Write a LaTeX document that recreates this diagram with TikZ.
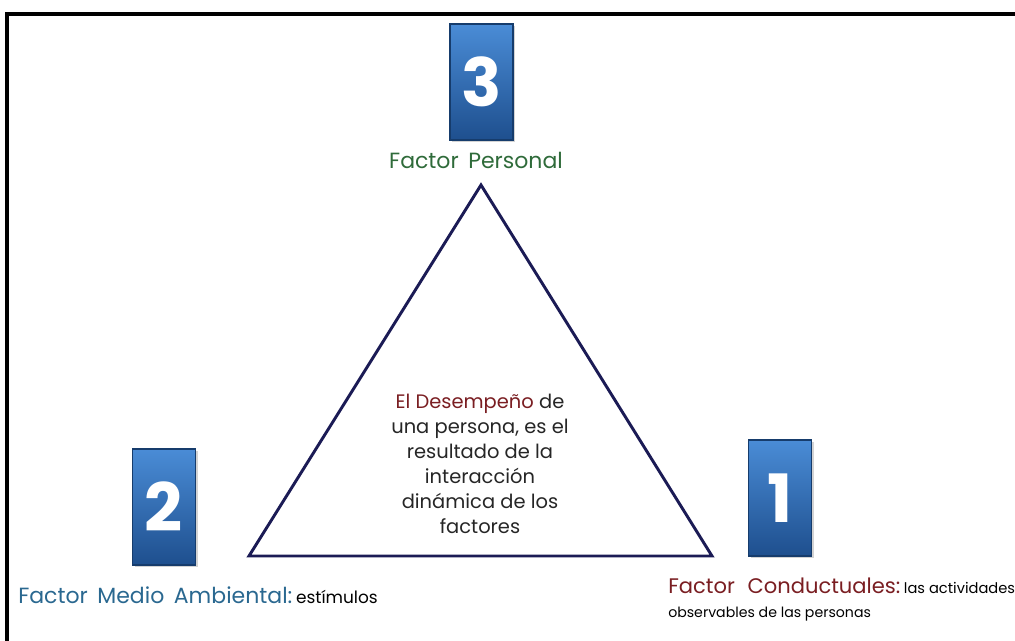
\documentclass[tikz,border=0pt]{standalone}
\usepackage{fontspec}
\setmainfont{Poppins}
\usetikzlibrary{shadows}
\definecolor{navy}{HTML}{1B1B55}
\definecolor{boxtop}{HTML}{4A8CD6}
\definecolor{boxbot}{HTML}{1E4F8E}
\definecolor{boxedge}{HTML}{163C6C}
\definecolor{pgreen}{HTML}{2F6B3A}
\definecolor{pblue}{HTML}{2A6890}
\definecolor{pred}{HTML}{7A1E22}
\tikzset{
  numbox/.style={draw=boxedge, line width=1.2pt, top color=boxtop, bottom color=boxbot,
    minimum width=63*0.75pt, minimum height=116*0.75pt, inner sep=0pt,
    text=white, font=\fontsize{50}{50}\selectfont\bfseries,
    drop shadow={opacity=0.35, shadow xshift=1.5pt, shadow yshift=-1.5pt}},
  lbl/.style={font=\fontsize{16.5}{18}\selectfont, inner sep=0pt},
  center/.style={font=\fontsize{14.6}{18.75}\selectfont, align=center, text=black!85, inner sep=0pt},
  tri/.style={draw=navy, line width=2.2pt, line join=miter}
}
\begin{document}
\begin{tikzpicture}[x=0.75pt, y=-0.75pt]
\useasboundingbox (0,0) rectangle (1015,641);
% frame
\draw[line width=2.4pt] (1016,14) -- (7,14) -- (7,642);
% triangle
\coordinate (apex) at (481,185);
\coordinate (bl) at (249,556);
\coordinate (br) at (712,556);
\draw[tri] (apex) -- (bl) -- (br) -- cycle;
% boxes
\node[numbox] (b3) at (481.5,82) {3};
\node[numbox] (b2) at (164,507) {2};
\node[numbox] (b1) at (780,498) {1};
% labels
\node[lbl, text=pgreen] (l3) at (476,160) {Factor\, Personal};
\node[lbl, anchor=west] (l2) at (18,595) {\textcolor{pblue}{Factor\, Medio\, Ambiental:}\,{\fontsize{12.7}{14}\selectfont\color{black}estímulos}};
\node[lbl, anchor=west, font=\fontsize{15.8}{18}\selectfont] (l1) at (668,586) {\textcolor{pred}{Factor\,\, Conductuales:}\,{\fontsize{11}{13}\selectfont\color{black}las actividades}};
\node[anchor=west, inner sep=0pt, font=\fontsize{10.6}{13}\selectfont] (l1b) at (668,614) {observables de las personas};
% center text
\node[center] (c) at (480,464) {\textcolor{pred}{El Desempeño} de\\una persona, es el\\resultado de la\\interacción\\dinámica de los\\factores};
\end{tikzpicture}
\end{document}
